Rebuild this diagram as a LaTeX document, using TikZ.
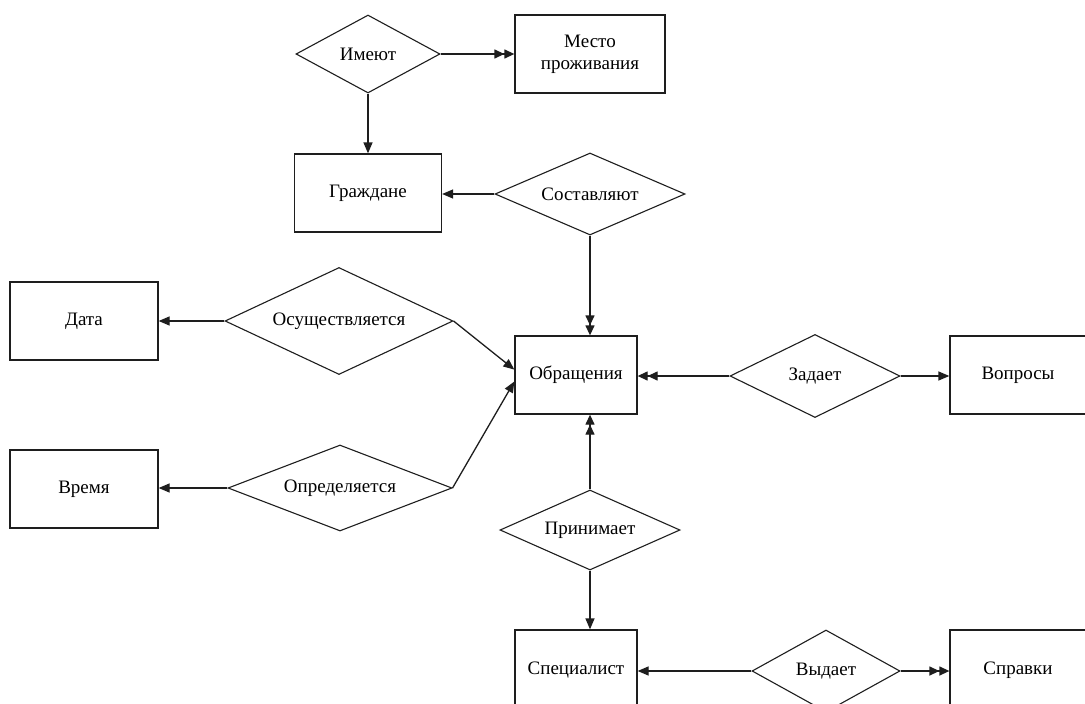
\documentclass[tikz,border=0pt]{standalone}
\usepackage{fontspec}
\setmainfont{Liberation Serif}
\usetikzlibrary{shapes.geometric, arrows.meta, positioning, calc}
\definecolor{lineColor}{RGB}{30, 30, 30}
\tikzset{
    font=\fontsize{19}{22}\selectfont,
    % --- entities ---
    entity/.style={
        rectangle, draw=lineColor, line width=1.3pt, fill=white,
        align=center, inner sep=2pt,
        minimum width=122pt, minimum height=78pt
    },
    % --- relations ---
    relation/.style={
        diamond, draw=lineColor, line width=1.1pt, fill=white,
        align=center, inner sep=0pt, aspect=2.2
    },
    % --- connectors ---
    conn/.style={
        draw=lineColor, line width=1.3pt,
        -{Triangle[length=11pt, width=9pt]}
    },
    connDouble/.style={
        draw=lineColor, line width=1.3pt,
        -{Triangle[length=10pt, width=9pt]Triangle[length=10pt, width=9pt]}
    }
}

\begin{document}
\begin{tikzpicture}[x=1pt, y=-1pt]

	\clip (0,0) rectangle (1085,704);
	\fill[white] (0,0) rectangle (1085,704);

	% =========================================
	% 1. Entities
	% =========================================

	\node [entity, minimum width=150pt] (mesto) at (590,54) {Место\\проживания};
	\node [entity, minimum width=147pt] (grazhdane) at (368,193) {Граждане};
	\node [entity, minimum width=148pt] (data) at (84,321) {Дата};
	\node [entity, minimum width=148pt] (vremya) at (84,489) {Время};
	\node [entity] (obrasch) at (576,375) {Обращения};
	\node [entity, minimum width=136pt] (voprosy) at (1018,375) {Вопросы};
	\node [entity, minimum height=80pt] (spec) at (576,670) {Специалист};
	\node [entity, minimum width=136pt, minimum height=80pt] (spravki) at (1018,670) {Справки};

	% =========================================
	% 2. Relations
	% =========================================

	\node [relation, minimum width=144pt, minimum height=78pt] (imeyut) at (368,54) {Имеют};
	\node [relation, minimum width=190pt, minimum height=82pt] (sostavl) at (590,194) {Составляют};
	\node [relation, minimum width=228pt, minimum height=107pt] (osusch) at (339,321) {Осуществляется};
	\node [relation, minimum width=224pt, minimum height=86pt] (opred) at (340,488) {Определяется};
	\node [relation, minimum width=170pt, minimum height=83pt] (zadaet) at (815,376) {Задает};
	\node [relation, minimum width=180pt, minimum height=80pt] (prinim) at (590,530) {Принимает};
	\node [relation, minimum width=148pt, minimum height=82pt] (vydaet) at (826,671) {Выдает};

	% =========================================
	% 3. Connectors
	% =========================================

	\draw [connDouble] (imeyut.east) -- (mesto.west |- imeyut.east);
	\draw [conn] (imeyut.south) -- (grazhdane.north);
	\draw [conn] (sostavl.west) -- (grazhdane.east |- sostavl.west);
	\draw [connDouble] (sostavl.south) -- (sostavl.south |- obrasch.north);

	\draw [conn] (osusch.west) -- (data.east |- osusch.west);
	\draw [conn] (osusch.east) -- (obrasch.175);
	\draw [conn] (opred.west) -- (vremya.east |- opred.west);
	\draw [conn] (opred.east) -- (obrasch.186);

	\draw [connDouble] (zadaet.west) -- (obrasch.east |- zadaet.west);
	\draw [conn] (zadaet.east) -- (voprosy.west |- zadaet.east);

	\draw [connDouble] (prinim.north) -- (prinim.north |- obrasch.south);
	\draw [conn] (prinim.south) -- (prinim.south |- spec.north);

	\draw [conn] (vydaet.west) -- (spec.east |- vydaet.west);
	\draw [connDouble] (vydaet.east) -- (spravki.west |- vydaet.east);

\end{tikzpicture}
\end{document}
